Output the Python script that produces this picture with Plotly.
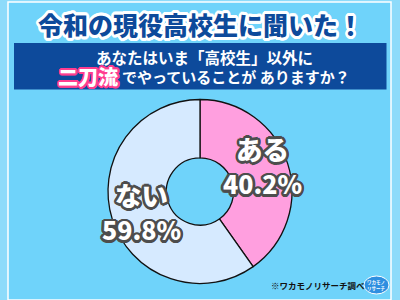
import math
import plotly.graph_objects as go

labels = ["ある", "ない"]
values = [40.2, 59.8]
colors = ["#ff9fdf", "#d6eaff"]
title_text = "令和の現役高校生に聞いた！"
q_line1 = "あなたはいま「高校生」以外に"
q_emph = "二刀流"
q_line2 = "でやっていることが ありますか？"
source = "※ワカモノリサーチ調べ"

W, H = 400, 300
FONT = "Noto Sans CJK JP"

def px(x):
    return x / W

def py(y):
    return 1 - y / H

def shadow(color, r, n=16):
    pts = [(r * math.cos(2 * math.pi * k / n), r * math.sin(2 * math.pi * k / n)) for k in range(n)]
    return ", ".join(f"{a:.2f}px {b:.2f}px 0px {color}" for a, b in pts)

cx, cy, R = 200, 191.5, 92
fig = go.Figure(go.Pie(
    labels=labels, values=values, sort=False, direction="clockwise", rotation=0,
    hole=0.365, textinfo="none", hoverinfo="skip", showlegend=False,
    marker=dict(colors=colors, line=dict(color="#111111", width=1.3)),
    domain=dict(x=[px(cx - R), px(cx + R)], y=[py(cy + R), py(cy - R)]),
))

shapes = [
    dict(type="rect", xref="paper", yref="paper", x0=px(8), x1=px(391), y0=py(300), y1=py(2),
         fillcolor="#6fd3fa", line=dict(color="white", width=1.5), layer="below"),
    dict(type="rect", xref="paper", yref="paper", x0=px(14), x1=px(386.5), y0=py(89.5), y1=py(43),
         fillcolor="#0d4a9b", line=dict(width=0), layer="below"),
    dict(type="circle", xref="paper", yref="paper", x0=px(364), x1=px(389), y0=py(294), y1=py(276),
         fillcolor="#2e8fe0", line=dict(color="white", width=1)),
]

ann = []

def add(text, x, y, size, color, sh=None, weight="bold"):
    f = dict(family=FONT, size=size, color=color, weight=weight)
    if sh:
        f["shadow"] = sh
    ann.append(dict(text=text, x=px(x), y=py(y), xref="paper", yref="paper", showarrow=False,
                    xanchor="center", yanchor="middle", font=f))

add(title_text, 200, 23.5, 25, "#0d4a9b", sh=shadow("white", 2.8), weight=900)
add(q_line1, 205, 57, 15.5, "white")
add(q_emph, 88, 76.5, 20, "white", sh=shadow("#ff3d8f", 1.8), weight=900)
add(q_line2, 236, 77, 15, "white")
lab_sh = shadow("#4d4d4d", 2.6)
add(f"{labels[0]}<br><span style='font-size:25px'>{values[0]:.1f}%</span>", 262, 165, 26.5,
    "white", sh=lab_sh, weight=900)
add(f"{labels[1]}<br><span style='font-size:25px'>{values[1]:.1f}%</span>", 141, 211, 26.5,
    "white", sh=lab_sh, weight=900)
add(source, 318, 285, 8.5, "#111111")
add("ワカモノ<br>リサーチ", 376.5, 285, 4.5, "white")

fig.update_layout(
    width=W, height=H, margin=dict(l=0, r=0, t=0, b=0),
    paper_bgcolor="#8ddbfa", plot_bgcolor="#8ddbfa",
    shapes=shapes, annotations=ann,
)
fig.write_html("out.html")
